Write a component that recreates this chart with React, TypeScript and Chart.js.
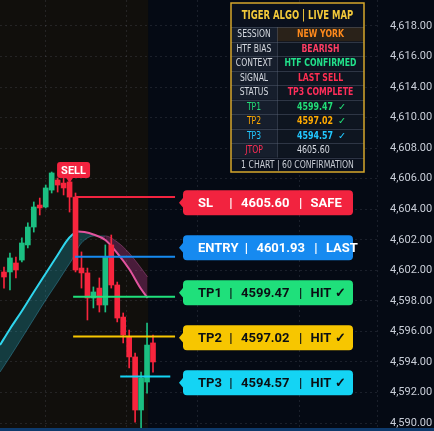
import React, { useEffect, useRef } from 'react';
import { Chart, registerables } from 'chart.js';

Chart.register(...registerables);

// ---------------- data ----------------
const CANDLE_INDEX = [0, 1, 2, 3, 4, 5, 6, 7, 8, 9, 10, 11, 12, 13, 14, 15, 16, 17, 18, 19, 20, 21, 22, 23, 24, 25];
const OPEN = [4600.99, 4600.99, 4601.54, 4601.72, 4602.65, 4603.75, 4605.10, 4604.98, 4606.02, 4606.64, 4606.45, 4606.52, 4605.59, 4601.23, 4600.93, 4599.39, 4600.00, 4598.96, 4602.65, 4600.19, 4598.22, 4596.99, 4595.77, 4592.51, 4594.23, 4596.63];
const HIGH = [4601.29, 4602.15, 4601.91, 4603.08, 4604.00, 4605.29, 4605.53, 4606.33, 4607.13, 4606.76, 4606.76, 4606.64, 4605.84, 4602.22, 4601.23, 4600.07, 4600.62, 4602.65, 4603.26, 4600.37, 4598.47, 4597.42, 4596.01, 4594.84, 4597.85, 4597.12];
const LOW = [4600.00, 4599.88, 4600.62, 4601.60, 4602.46, 4603.44, 4604.49, 4604.92, 4605.84, 4605.90, 4605.72, 4604.67, 4600.99, 4600.00, 4598.04, 4598.78, 4598.53, 4598.53, 4600.00, 4597.92, 4596.63, 4595.09, 4591.77, 4591.40, 4593.55, 4594.84];
const CLOSE = [4600.68, 4601.85, 4601.11, 4602.77, 4603.75, 4604.98, 4604.92, 4606.15, 4607.07, 4606.33, 4606.15, 4605.59, 4601.11, 4600.93, 4599.39, 4599.76, 4598.96, 4601.91, 4600.19, 4598.16, 4597.12, 4595.77, 4592.51, 4594.48, 4596.50, 4595.46];

const RIBBON_X = [-0.67, 1, 3, 5, 7, 9, 10.5, 11.5, 12.5, 13.5, 15, 17, 19, 21, 23, 24.1];
const RIBBON_FAST = [4596.50, 4597.49, 4598.59, 4599.76, 4600.90, 4602.03, 4602.89, 4603.29, 4603.48, 4603.44, 4603.29, 4602.95, 4602.15, 4601.17, 4599.94, 4599.39];
const RIBBON_SLOW = [4594.84, 4595.77, 4596.93, 4598.10, 4599.27, 4600.37, 4601.23, 4601.79, 4602.52, 4602.95, 4603.20, 4603.20, 4602.83, 4602.15, 4601.23, 4600.68];

const LEVEL_NAMES = ['SL', 'ENTRY', 'TP1', 'TP2', 'TP3'];
const LEVEL_PRICES = [4605.60, 4601.93, 4599.47, 4597.02, 4594.57];
const LEVEL_TEXT = ['4605.60', '4601.93', '4599.47', '4597.02', '4594.57'];
const LEVEL_STATUS = ['SAFE', 'LAST', 'HIT ✓', 'HIT ✓', 'HIT ✓'];
const LEVEL_START = [11.9, 11.9, 11.6, 11.6, 19.5];
const LEVEL_END = [28.7, 28.7, 28.7, 28.7, 27.9];
const LEVEL_COLORS = ['#f2233f', '#168af0', '#1fe07b', '#f7c600', '#14d4f4'];
const LEVEL_TEXT_COLORS = ['#ffffff', '#ffffff', '#0b0f14', '#0b0f14', '#0b0f14'];

const SELL_INDEX = 11;
const SESSION_END = 24.2;
const TIME_GRID = [6.9, 20.6, 32.5, 49.6, 62.6];
const AXIS_LABELS = ['4,618.00', '4,616.00', '4,614.00', '4,610.00', '4,608.00', '4,606.00', '4,604.00', '4,602.00', '4,602.00', '4,598.00', '4,596.00', '4,594.00', '4,592.00', '4,590.00'];

const TABLE_TITLE = 'TIGER ALGO | LIVE MAP';
const TABLE_LABELS = ['SESSION', 'HTF BIAS', 'CONTEXT', 'SIGNAL', 'STATUS', 'TP1', 'TP2', 'TP3', 'JTOP'];
const TABLE_VALUES = ['NEW YORK', 'BEARISH', 'HTF CONFIRMED', 'LAST SELL', 'TP3 COMPLETE', '4599.47', '4597.02', '4594.57', '4605.60'];
const TABLE_CHECKS = ['', '', '', '', '', '✓', '✓', '✓', ''];
const TABLE_FOOTER = '1 CHART | 60 CONFIRMATION';

// ---------------- styling ----------------
const PRICE_MIN = 4591.405;
const PRICE_MAX = 4617.695;
const X_MIN = -0.67;
const X_MAX = 62.75;
const UP = '#1bbf82';
const DOWN = '#f7253d';
const CYAN = '#2fd6ee';
const PINK = '#e2549e';
const GRID = 'rgba(140,150,170,0.16)';
const NARROW = '"Liberation Sans Narrow", "DejaVu Sans Condensed", Roboto, sans-serif';
const ROUND = 'Roboto, "Noto Sans", sans-serif';

const LABEL_COLORS = ['#d5d9e0', '#d5d9e0', '#d5d9e0', '#d5d9e0', '#d5d9e0', '#22dd77', '#ffaa00', '#22c8ff', '#ff2d55'];
const VALUE_COLORS = ['#ff8a1c', '#ff3d63', '#22e08a', '#ff2e50', '#ff2e5a', '#22dd77', '#ffaa00', '#22c8ff', '#d8dce4'];
const CHECK_COLORS = ['', '', '', '', '', '#22dd77', '#22dd77', '#22c8ff', ''];

function roundRect(ctx: any, x: number, y: number, w: number, h: number, r: number) {
  ctx.beginPath();
  ctx.moveTo(x + r, y);
  ctx.lineTo(x + w - r, y);
  ctx.quadraticCurveTo(x + w, y, x + w, y + r);
  ctx.lineTo(x + w, y + h - r);
  ctx.quadraticCurveTo(x + w, y + h, x + w - r, y + h);
  ctx.lineTo(x + r, y + h);
  ctx.quadraticCurveTo(x, y + h, x, y + h - r);
  ctx.lineTo(x, y + r);
  ctx.quadraticCurveTo(x, y, x + r, y);
  ctx.closePath();
}

function textScaled(ctx: any, text: string, x: number, y: number, sx: number) {
  ctx.save();
  ctx.translate(x, y);
  ctx.scale(sx, 1);
  ctx.fillText(text, 0, 0);
  ctx.restore();
}

const backgroundPlugin = {
  id: 'bgPanels',
  beforeDraw(chart: any) {
    const { ctx, chartArea: ca, width, height } = chart;
    const xs = chart.scales.x;
    ctx.save();
    ctx.fillStyle = '#050a14';
    ctx.fillRect(0, 0, width, height);
    ctx.fillStyle = '#110f0c';
    const xe = xs.getPixelForValue(SESSION_END);
    ctx.fillRect(ca.left, ca.top, xe - ca.left, ca.bottom - ca.top);
    ctx.fillStyle = '#0e3a6c';
    ctx.fillRect(0, ca.bottom, width, height - ca.bottom);
    ctx.restore();
  },
};

const overlayPlugin = {
  id: 'overlays',
  afterDatasetsDraw(chart: any) {
    const { ctx, chartArea: ca } = chart;
    const xs = chart.scales.x;
    const ys = chart.scales.y;
    ctx.save();

    // ---- level label boxes (stacked evenly around their lines) ----
    const pix = LEVEL_PRICES.map((p) => ys.getPixelForValue(p));
    const mean = pix.reduce((a, b) => a + b, 0) / pix.length;
    const gap = 45;
    const left = ca.right - 195;
    const right = ca.right - 25;
    const h = 25;
    LEVEL_NAMES.forEach((name, k) => {
      const cy = mean + (k - (LEVEL_NAMES.length - 1) / 2) * gap;
      ctx.fillStyle = LEVEL_COLORS[k];
      roundRect(ctx, left, cy - h / 2, right - left, h, 4);
      ctx.fill();
      ctx.beginPath();
      ctx.moveTo(left + 1, cy - 6);
      ctx.lineTo(left - 4, cy);
      ctx.lineTo(left + 1, cy + 6);
      ctx.closePath();
      ctx.fill();

      ctx.fillStyle = LEVEL_TEXT_COLORS[k];
      ctx.font = `bold 13px ${ROUND}`;
      ctx.textBaseline = 'middle';
      ctx.textAlign = 'left';
      const x0 = left + 15;
      const ty = cy + 1;
      ctx.fillText(name, x0, ty);
      const bar1 = Math.max(x0 + ctx.measureText(name).width + 8, left + 48);
      ctx.textAlign = 'center';
      ctx.fillText('|', bar1, ty);
      const vx = bar1 + 10;
      ctx.textAlign = 'left';
      ctx.fillText(LEVEL_TEXT[k], vx, ty);
      const bar2 = vx + ctx.measureText(LEVEL_TEXT[k]).width + 11;
      ctx.textAlign = 'center';
      ctx.fillText('|', bar2, ty);
      ctx.textAlign = 'left';
      ctx.fillText(LEVEL_STATUS[k], bar2 + 10, ty);
    });

    // ---- SELL marker ----
    const sx = xs.getPixelForValue(SELL_INDEX);
    const sy = ys.getPixelForValue(HIGH[SELL_INDEX]) - 2;
    const bw = 33;
    const bh = 16;
    const bx = sx + 4 - bw / 2;
    ctx.fillStyle = '#f2233f';
    roundRect(ctx, bx, sy - bh, bw, bh, 3);
    ctx.fill();
    ctx.beginPath();
    ctx.moveTo(sx - 4, sy - 1);
    ctx.lineTo(sx, sy + 5);
    ctx.lineTo(sx + 4, sy - 1);
    ctx.closePath();
    ctx.fill();
    ctx.fillStyle = '#ffffff';
    ctx.font = `bold 11px ${ROUND}`;
    ctx.textAlign = 'center';
    ctx.textBaseline = 'middle';
    ctx.fillText('SELL', bx + bw / 2, sy - bh / 2 + 1);

    // ---- info table ----
    const tr = ca.right - 14;
    const tl = tr - 133;
    const tt = ca.top + 3;
    const titleH = 24;
    const rowH = 14.5;
    const colX = tl + 46;
    const tb = tt + titleH + (TABLE_LABELS.length + 1) * rowH;
    ctx.fillStyle = 'rgba(10,17,30,0.96)';
    ctx.fillRect(tl, tt, tr - tl, tb - tt);
    TABLE_LABELS.forEach((lab, i) => {
      const y = tt + titleH + i * rowH;
      ctx.fillStyle = '#161e2c';
      ctx.fillRect(tl, y, colX - tl, rowH);
      ctx.fillStyle = i === 0 ? '#2a2219' : '#0e1520';
      ctx.fillRect(colX, y, tr - colX, rowH);
    });
    ctx.strokeStyle = 'rgba(95,105,125,0.4)';
    ctx.lineWidth = 1;
    for (let i = 0; i <= TABLE_LABELS.length; i++) {
      const y = Math.round(tt + titleH + i * rowH) + 0.5;
      ctx.beginPath();
      ctx.moveTo(tl, y);
      ctx.lineTo(tr, y);
      ctx.stroke();
    }
    ctx.beginPath();
    ctx.moveTo(colX + 0.5, tt + titleH);
    ctx.lineTo(colX + 0.5, tt + titleH + TABLE_LABELS.length * rowH);
    ctx.stroke();
    ctx.strokeStyle = '#d6a72b';
    ctx.lineWidth = 1.5;
    ctx.strokeRect(tl, tt, tr - tl, tb - tt);

    const midX = (tl + tr) / 2;
    ctx.textBaseline = 'middle';
    ctx.textAlign = 'center';
    ctx.fillStyle = '#f3c93a';
    ctx.font = `bold 11.5px ${NARROW}`;
    textScaled(ctx, TABLE_TITLE, midX, tt + titleH / 2 + 1, 0.82);

    TABLE_LABELS.forEach((lab, i) => {
      const cy = tt + titleH + i * rowH + rowH / 2 + 0.5;
      ctx.font = `10px ${NARROW}`;
      ctx.textAlign = 'center';
      ctx.fillStyle = LABEL_COLORS[i];
      textScaled(ctx, lab, (tl + colX) / 2, cy, 0.85);
      ctx.font = `bold 10px ${NARROW}`;
      ctx.fillStyle = VALUE_COLORS[i];
      if (TABLE_CHECKS[i]) {
        ctx.textAlign = 'left';
        textScaled(ctx, TABLE_VALUES[i], colX + 20, cy, 0.88);
        ctx.fillStyle = CHECK_COLORS[i];
        ctx.font = `9.5px "DejaVu Sans", sans-serif`;
        ctx.fillText(TABLE_CHECKS[i], colX + 61, cy);
      } else if (i === TABLE_LABELS.length - 1) {
        ctx.font = `10px ${NARROW}`;
        ctx.textAlign = 'left';
        textScaled(ctx, TABLE_VALUES[i], colX + 20, cy, 0.88);
      } else {
        ctx.textAlign = 'center';
        textScaled(ctx, TABLE_VALUES[i], (colX + tr) / 2, cy, 0.86);
      }
    });
    ctx.font = `10px ${NARROW}`;
    ctx.textAlign = 'center';
    ctx.fillStyle = '#c8ccd4';
    textScaled(ctx, TABLE_FOOTER, midX, tb - rowH / 2 + 0.5, 0.86);

    ctx.restore();
  },
};

export default function App() {
  const ref = useRef<HTMLCanvasElement | null>(null);

  useEffect(() => {
    document.body.style.margin = '0';
    document.body.style.background = '#050a14';
    if (!ref.current) return;

    const levelSets = LEVEL_NAMES.map((name, k) => ({
      type: 'line' as const,
      label: name,
      data: [
        { x: LEVEL_START[k], y: LEVEL_PRICES[k] },
        { x: LEVEL_END[k], y: LEVEL_PRICES[k] },
      ],
      borderColor: LEVEL_COLORS[k],
      borderWidth: 2,
      pointRadius: 0,
      fill: false,
      order: 0,
      xAxisID: 'x',
      yAxisID: 'y',
    }));

    const candleColors = CANDLE_INDEX.map((i) => (CLOSE[i] >= OPEN[i] ? UP : DOWN));

    const chart = new Chart(ref.current, {
      type: 'bar',
      data: {
        datasets: [
          ...levelSets,
          {
            type: 'bar',
            label: 'bodies',
            data: CANDLE_INDEX.map((i) => ({ x: i, y: [OPEN[i], CLOSE[i]] })),
            backgroundColor: candleColors,
            borderWidth: 0,
            barThickness: 5,
            grouped: false,
            order: 1,
            xAxisID: 'x',
            yAxisID: 'y',
          },
          {
            type: 'bar',
            label: 'wicks',
            data: CANDLE_INDEX.map((i) => ({ x: i, y: [LOW[i], HIGH[i]] })),
            backgroundColor: candleColors,
            borderWidth: 0,
            barThickness: 1,
            grouped: false,
            order: 2,
            xAxisID: 'x',
            yAxisID: 'y',
          },
          {
            type: 'line',
            label: 'fast',
            data: RIBBON_X.map((x, i) => ({ x, y: RIBBON_FAST[i] })),
            borderWidth: 2,
            pointRadius: 0,
            cubicInterpolationMode: 'monotone',
            segment: {
              borderColor: (c: any) => (c.p1.parsed.y >= c.p0.parsed.y ? CYAN : PINK),
            },
            borderColor: CYAN,
            fill: { target: '+1', above: 'rgba(30,190,215,0.26)', below: 'rgba(205,60,165,0.30)' },
            order: 3,
            xAxisID: 'x',
            yAxisID: 'y',
          },
          {
            type: 'line',
            label: 'slow',
            data: RIBBON_X.map((x, i) => ({ x, y: RIBBON_SLOW[i] })),
            borderWidth: 1,
            pointRadius: 0,
            cubicInterpolationMode: 'monotone',
            segment: {
              borderColor: (c: any) =>
                c.p1.parsed.y >= c.p0.parsed.y ? 'rgba(47,214,238,0.35)' : 'rgba(226,84,158,0.4)',
            },
            borderColor: 'rgba(47,214,238,0.35)',
            fill: false,
            order: 4,
            xAxisID: 'x',
            yAxisID: 'y',
          },
        ] as any,
      },
      options: {
        responsive: false,
        animation: false,
        layout: { padding: { left: 0, right: 0, top: 0, bottom: 3 } },
        plugins: { legend: { display: false }, tooltip: { enabled: false } },
        scales: {
          x: {
            type: 'linear',
            min: X_MIN,
            max: X_MAX,
            offset: false,
            grid: { color: GRID, lineWidth: 1, drawTicks: false, offset: false },
            border: { display: false, dash: [2, 3] },
            ticks: { display: false },
            afterBuildTicks: (s: any) => {
              s.ticks = TIME_GRID.map((v) => ({ value: v }));
            },
            afterFit: (s: any) => {
              s.height = 0;
              s.paddingLeft = 0;
              s.paddingRight = 0;
            },
          },
          y: { type: 'linear', min: PRICE_MIN, max: PRICE_MAX, display: false },
          yl: {
            type: 'linear',
            position: 'right',
            reverse: true,
            min: -0.851,
            max: 13.163,
            grid: { color: GRID, lineWidth: 1, drawTicks: false },
            border: { display: false, dash: [2, 3] },
            ticks: {
              color: '#c9ced8',
              padding: 12,
              font: { family: ROUND, size: 11 },
              callback: (v: any) => AXIS_LABELS[Math.round(Number(v))] ?? '',
            },
            afterBuildTicks: (s: any) => {
              s.ticks = AXIS_LABELS.map((_, i) => ({ value: i }));
            },
            afterFit: (s: any) => {
              s.width = 56;
              s.paddingTop = 0;
              s.paddingBottom = 0;
            },
          },
        },
      } as any,
      plugins: [backgroundPlugin, overlayPlugin],
    });

    return () => chart.destroy();
  }, []);

  return (
    <div style={{ width: 434, height: 431 }}>
      <canvas ref={ref} width={434} height={431} style={{ display: 'block' }} />
    </div>
  );
}
